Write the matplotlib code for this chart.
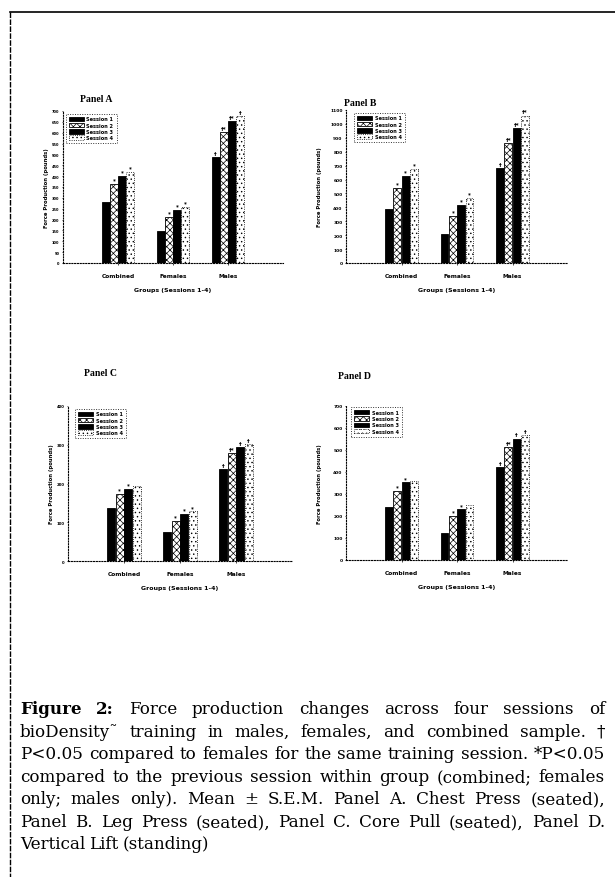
import matplotlib
matplotlib.use("Agg")
import matplotlib.pyplot as plt
from matplotlib.lines import Line2D
import numpy as np

# ---------------- data ----------------
groups = ["Combined", "Females", "Males"]
sessions = ["Session 1", "Session 2", "Session 3", "Session 4"]

# rows = groups (Combined, Females, Males), columns = sessions 1-4
chest_press = [[281, 364, 401, 419], [147, 212, 244, 258], [488, 603, 654, 677]]
leg_press = [[390, 540, 629, 679], [212, 338, 417, 469], [681, 862, 969, 1060]]
core_pull = [[137, 173, 186, 194], [75, 104, 122, 128], [237, 278, 293, 301]]
vertical_lift = [[242, 315, 353, 361], [125, 201, 231, 251], [421, 513, 551, 566]]

marks_A = [["", "*", "*", "*"], ["", "*", "*", "*"], ["†", "†*", "†*", "†"]]
marks_B = [["", "*", "*", "*"], ["", "*", "*", "*"], ["†", "†*", "†*", "†*"]]
marks_C = [["", "*", "*", ""], ["", "*", "*", "*"], ["†", "†*", "†", "†"]]
marks_D = [["", "*", "*", ""], ["", "*", "*", ""], ["†", "†*", "†", "†"]]

ticks_A = list(range(0, 701, 50))
ticks_B = list(range(0, 1101, 100))
ticks_C = list(range(0, 401, 100))
ticks_D = list(range(0, 701, 100))

panel_titles = ["Panel A", "Panel B", "Panel C", "Panel D"]
ylabel = "Force Production (pounds)"
xlabel = "Groups (Sessions 1-4)"

caption_lines = [
    "Figure 2: Force production changes across four sessions of",
    "bioDensity\u02dc training in males, females, and combined sample. \u2020",
    "P<0.05 compared to females for the same training session. *P<0.05",
    "compared to the previous session within group (combined; females",
    "only; males only). Mean \u00b1 S.E.M. Panel A. Chest Press (seated),",
    "Panel B. Leg Press (seated), Panel C. Core Pull (seated), Panel D.",
    "Vertical Lift (standing)",
]

# ---------------- figure ----------------
plt.rcParams["hatch.linewidth"] = 0.5
W, H = 615, 878
fig = plt.figure(figsize=(W / 100, H / 100), dpi=100)
fig.patch.set_facecolor("white")

def fx(px):
    return px / W

def fy(py):
    return 1 - py / H

# border lines
fig.add_artist(Line2D([fx(10), fx(615)], [fy(13), fy(13)], color="black", lw=1.2))
fig.add_artist(Line2D([fx(10), fx(10)], [fy(13), fy(878)], color="black", lw=1.0,
                      linestyle=(0, (4, 1))))

styles = [
    dict(facecolor="black", edgecolor="black", hatch=None, linestyle="-"),
    dict(facecolor="white", edgecolor="black", hatch="xxxxx", linestyle="-"),
    dict(facecolor="black", edgecolor="black", hatch=None, linestyle="-"),
    dict(facecolor="white", edgecolor="black", hatch="....", linestyle=":"),
]

# (values, marks, ticks, axes box px, title px, legend anchor, ylabel x px, tick font)
panels = [
    (chest_press, marks_A, ticks_A, (63, 283, 112, 264), (80, 100), (0.0, 1.0), 49, 2.6),
    (leg_press, marks_B, ticks_B, (346, 568, 111, 264), (344, 104), (0.025, 1.0), 322, 3.2),
    (core_pull, marks_C, ticks_C, (68, 292, 407, 562), (84, 374), (0.02, 1.0), 54, 2.8),
    (vertical_lift, marks_D, ticks_D, (346, 568, 407, 561), (338, 377), (0.01, 1.01), 322, 3.2),
]

bw = 0.15
for idx, (vals, marks, ticks, (l, r, t, b), (tx, ty), lg, ylx, tfs) in enumerate(panels):
    ax = fig.add_axes([fx(l), fy(b), fx(r) - fx(l), (b - t) / H])
    vals = np.array(vals)
    xs = np.arange(len(groups))
    for s in range(4):
        st = styles[s]
        pos = xs + (s - 1.5) * bw
        ax.bar(pos, vals[:, s], width=bw * 0.95, facecolor=st["facecolor"],
               edgecolor=st["edgecolor"], hatch=st["hatch"],
               linestyle=st["linestyle"], linewidth=0.6, label=sessions[s])
        for g in range(len(groups)):
            m = marks[g][s]
            if m:
                ax.annotate(m, (pos[g], vals[g, s]), xytext=(0, 1),
                            textcoords="offset points", ha="center", va="bottom",
                            fontsize=4, fontweight="bold", family="DejaVu Sans")
    ax.set_xlim(-1, 3)
    ax.set_ylim(0, ticks[-1])
    ax.set_yticks(ticks)
    ax.set_yticklabels([str(v) for v in ticks], fontsize=tfs, fontweight="bold")
    ax.set_xticks(xs)
    ax.set_xticklabels(groups, fontsize=4.2, fontweight="bold")
    ax.tick_params(axis="x", length=1.5, width=0.5, pad=6)
    ax.tick_params(axis="y", length=1.0, width=0.5, pad=1.5)
    for sp in ["top", "right"]:
        ax.spines[sp].set_visible(False)
    for sp in ["left", "bottom"]:
        ax.spines[sp].set_linestyle((0, (1, 1.5)))
        ax.spines[sp].set_linewidth(0.8)
    ax.set_xlabel(xlabel, fontsize=4.5, fontweight="bold", labelpad=6)
    ax.set_ylabel(ylabel, fontsize=3.8, fontweight="bold")
    ax.yaxis.set_label_coords((ylx - l) / (r - l), 0.5)
    leg = ax.legend(loc="upper left", bbox_to_anchor=lg, fontsize=3.6, frameon=True,
                    fancybox=False, edgecolor="black", handlelength=3.0,
                    handleheight=1.0, borderpad=0.6, labelspacing=0.25,
                    handletextpad=0.6)
    leg.get_frame().set_linestyle((0, (1, 1.5)))
    leg.get_frame().set_linewidth(0.7)
    for txt in leg.get_texts():
        txt.set_fontweight("bold")
    fig.text(fx(tx), fy(ty), panel_titles[idx], fontsize=7, fontweight="bold",
             family="Liberation Serif", ha="left", va="center")

# ---------------- caption (justified) ----------------
renderer = fig.canvas.get_renderer()
x_left, x_right = 20, 605
y0, dy = 710, 22.5
cap_family = "DejaVu Serif"

# size the font so that the tightest line (line 3) fills the column naturally
probe = fig.text(0, 0, caption_lines[2], fontsize=10, family=cap_family)
pw = probe.get_window_extent(renderer).width
probe.remove()
fsize = 10 * (x_right - x_left) / pw * 0.995

for i, line in enumerate(caption_lines):
    words = line.split(" ")
    y = fy(y0 + i * dy)
    objs = []
    for j, w in enumerate(words):
        weight = "bold" if (i == 0 and j < 2) else "normal"
        tobj = fig.text(0, y, w, fontsize=fsize, family=cap_family,
                        fontweight=weight, ha="left", va="center")
        objs.append(tobj)
    widths = [o.get_window_extent(renderer).width for o in objs]
    total = sum(widths)
    if i < len(caption_lines) - 1 and len(words) > 1:
        gap = (x_right - x_left - total) / (len(words) - 1)
    else:
        gap = fsize * 0.35
    x = x_left
    for o, wdt in zip(objs, widths):
        o.set_x(fx(x))
        x += wdt + gap

fig.savefig("out.png", dpi=100, facecolor="white")
